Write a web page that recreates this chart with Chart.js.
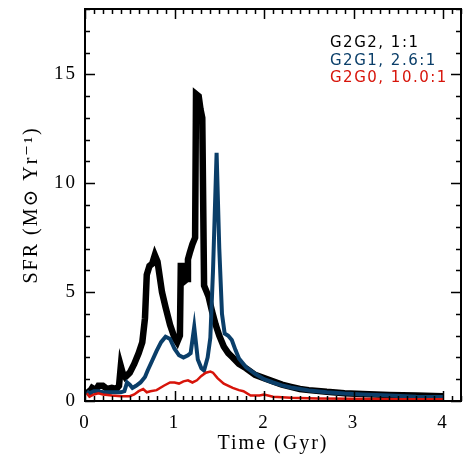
<!DOCTYPE html>
<html>
<head>
<meta charset="utf-8">
<script src="https://cdn.jsdelivr.net/npm/chart.js@4"></script>
<style>
body{margin:0;background:#fff;}
#wrap{width:472px;height:472px;}
</style>
</head>
<body>
<div id="wrap"><canvas id="sfrChart" width="472" height="472"></canvas></div>
<script>
// series labels and colours
var seriesNames = ['G2G2, 1:1', 'G2G1, 2.6:1', 'G2G0, 10.0:1'];
var seriesColors = ['rgb(0,0,0)', 'rgb(10,62,105)', 'rgb(215,20,10)'];

// time (Gyr) and SFR (Msun/yr)
var tG2G2 = [0.02,0.05,0.08,0.12,0.15,0.2,0.25,0.3,0.35,0.38,0.4,0.42,0.45,0.5,0.55,0.6,0.64,0.67,0.69,0.72,0.75,0.78,0.81,0.86,0.9,0.95,1.0,1.03,1.06,1.07,1.1,1.11,1.14,1.15,1.17,1.2,1.23,1.24,1.27,1.29,1.31,1.33,1.36,1.38,1.42,1.46,1.5,1.55,1.6,1.65,1.72,1.8,1.9,2.0,2.1,2.2,2.3,2.4,2.5,2.7,2.9,3.1,3.4,3.7,4.0];
var sfrG2G2 = [0.55,0.4,0.6,0.5,0.7,0.7,0.55,0.6,0.55,0.7,1.6,1.3,1.1,1.3,1.7,2.2,2.7,3.8,5.8,6.2,6.3,6.7,6.4,5.0,4.3,3.5,2.9,2.7,3.0,6.2,6.2,5.5,5.6,6.5,6.8,7.2,7.5,14.1,14.0,13.4,13.0,5.3,5.0,4.8,4.1,3.5,3.0,2.5,2.2,2.0,1.7,1.5,1.2,1.05,0.9,0.75,0.65,0.55,0.5,0.42,0.36,0.32,0.28,0.25,0.22];

var tG2G1 = [0.02,0.05,0.1,0.15,0.2,0.25,0.3,0.35,0.4,0.44,0.47,0.5,0.53,0.57,0.62,0.67,0.7,0.75,0.8,0.85,0.9,0.95,1.0,1.05,1.1,1.15,1.18,1.22,1.26,1.3,1.33,1.37,1.4,1.43,1.47,1.5,1.53,1.56,1.6,1.64,1.68,1.72,1.8,1.9,2.0,2.1,2.2,2.3,2.4,2.5,2.7,2.9,3.1,3.4,3.7,4.0];
var sfrG2G1 = [0.45,0.35,0.45,0.45,0.4,0.4,0.4,0.4,0.4,0.45,0.85,0.75,0.6,0.7,0.85,1.1,1.4,1.85,2.3,2.7,2.95,2.85,2.4,2.1,2.0,2.1,2.2,3.4,1.9,1.5,1.4,2.0,2.9,6.0,11.4,7.0,4.0,3.1,3.0,2.8,2.35,1.95,1.55,1.25,1.0,0.85,0.72,0.62,0.55,0.48,0.4,0.34,0.3,0.25,0.2,0.18];

var tG2G0 = [0.02,0.05,0.1,0.15,0.2,0.3,0.4,0.5,0.55,0.6,0.65,0.69,0.73,0.8,0.88,0.95,1.0,1.05,1.1,1.15,1.2,1.25,1.3,1.35,1.4,1.43,1.48,1.55,1.65,1.72,1.77,1.85,1.95,2.0,2.1,2.3,2.6,3.0,3.5,4.0];
var sfrG2G0 = [0.35,0.2,0.3,0.35,0.3,0.25,0.22,0.22,0.3,0.45,0.55,0.4,0.45,0.5,0.7,0.85,0.85,0.8,0.9,0.95,0.85,0.95,1.15,1.3,1.35,1.3,1.05,0.8,0.6,0.5,0.45,0.25,0.25,0.3,0.2,0.15,0.12,0.1,0.08,0.08];

var xTickLabels = ['0','1','2','3','4'];

var toPoints = function(t, v) {
	var pts = [];
	for (var i = 0; i < t.length; i++) {
		pts.push({x: t[i], y: v[i]});
	}
	return pts;
}

var serif = "'Liberation Serif', 'DejaVu Serif', serif";

// wider letter spacing for the axis text (the original uses a wide vector font)
var wideText = {
	id: 'wideText',
	beforeDraw: function(chart) {
		chart.ctx.letterSpacing = '2px';
	},
	afterDatasetsDraw: function(chart) {
		chart.ctx.letterSpacing = '0px';
	}
};

// box round the plot and inward ticks on all four sides
var frameTicks = {
	id: 'frameTicks',
	afterDraw: function(chart) {
		var ctx = chart.ctx;
		var a = chart.chartArea;
		var xs = chart.scales.x;
		var ys = chart.scales.y;
		ctx.save();
		ctx.strokeStyle = '#000';
		ctx.lineWidth = 2;
		ctx.strokeRect(a.left, a.top, a.right - a.left, a.bottom - a.top);
		ctx.lineWidth = 1.5;
		ctx.beginPath();
		for (var i = 0; i <= 42; i++) {
			var px = Math.round(xs.getPixelForValue(i / 10)) + 0.5;
			var len = (i % 10 == 0) ? 10 : 5;
			ctx.moveTo(px, a.bottom); ctx.lineTo(px, a.bottom - len);
			ctx.moveTo(px, a.top); ctx.lineTo(px, a.top + len);
		}
		for (var j = 0; j <= 18; j++) {
			var py = Math.round(ys.getPixelForValue(j)) + 0.5;
			var len2 = (j % 5 == 0) ? 10 : 5;
			ctx.moveTo(a.left, py); ctx.lineTo(a.left + len2, py);
			ctx.moveTo(a.right, py); ctx.lineTo(a.right - len2, py);
		}
		ctx.stroke();
		ctx.restore();
	}
};

// coloured text legend in the upper right
var textLegend = {
	id: 'textLegend',
	afterDraw: function(chart) {
		var ctx = chart.ctx;
		var a = chart.chartArea;
		ctx.save();
		ctx.font = "15px 'DejaVu Sans', sans-serif";
		ctx.letterSpacing = '1.5px';
		ctx.textAlign = 'left';
		ctx.textBaseline = 'alphabetic';
		chart.data.datasets.forEach(function(ds, i) {
			ctx.fillStyle = ds.borderColor;
			ctx.fillText(ds.label, a.left + 245, a.top + 38 + i * 17.5);
		});
		ctx.restore();
	}
};

var chartArea = document.getElementById('sfrChart');
var myChart = new Chart(chartArea, {
	type: 'line',
	data: {
		datasets: [
		{
			label: seriesNames[0],
			data: toPoints(tG2G2, sfrG2G2),
			borderColor: seriesColors[0],
			borderWidth: 6.5,
			pointRadius: 0,
			tension: 0,
			fill: false,
			order: 3
		},
		{
			label: seriesNames[1],
			data: toPoints(tG2G1, sfrG2G1),
			borderColor: seriesColors[1],
			borderWidth: 4,
			pointRadius: 0,
			tension: 0,
			fill: false,
			order: 2
		},
		{
			label: seriesNames[2],
			data: toPoints(tG2G0, sfrG2G0),
			borderColor: seriesColors[2],
			borderWidth: 2.5,
			pointRadius: 0,
			tension: 0,
			fill: false,
			order: 1
		}
		]
	},
	options: {
		responsive: false,
		animation: false,
		layout: { padding: { top: 9, right: 11, left: 0, bottom: 0 } },
		plugins: {
			legend: { display: false },
			tooltip: { enabled: false }
		},
		scales: {
			x: {
				type: 'linear',
				min: 0,
				max: 4.2,
				grid: { display: false, drawTicks: false },
				border: { display: false },
				afterFit: function(s) { s.height = 71; s.paddingLeft = 0; s.paddingRight = 0; },
				ticks: {
					stepSize: 1,
					includeBounds: false,
					padding: 11,
					color: '#000',
					font: { family: serif, size: 19 },
					maxRotation: 0,
					callback: function(v) { return xTickLabels[v] !== undefined ? xTickLabels[v] : ''; }
				},
				title: {
					display: true,
					text: 'Time (Gyr)',
					color: '#000',
					font: { family: serif, size: 20 },
					padding: { top: 0, bottom: 16 }
				}
			},
			y: {
				type: 'linear',
				min: 0,
				max: 18,
				grid: { display: false, drawTicks: false },
				border: { display: false },
				afterFit: function(s) { s.width = 85; s.paddingTop = 0; s.paddingBottom = 0; },
				ticks: {
					stepSize: 5,
					includeBounds: false,
					padding: 8,
					color: '#000',
					font: { family: serif, size: 19 }
				},
				title: {
					display: true,
					text: 'SFR (M\u2299 Yr\u207B\u00B9)',
					color: '#000',
					font: { family: serif, size: 20 },
					padding: { top: 20, bottom: 0 }
				}
			}
		}
	},
	plugins: [wideText, frameTicks, textLegend]
});
</script>
</body>
</html>
